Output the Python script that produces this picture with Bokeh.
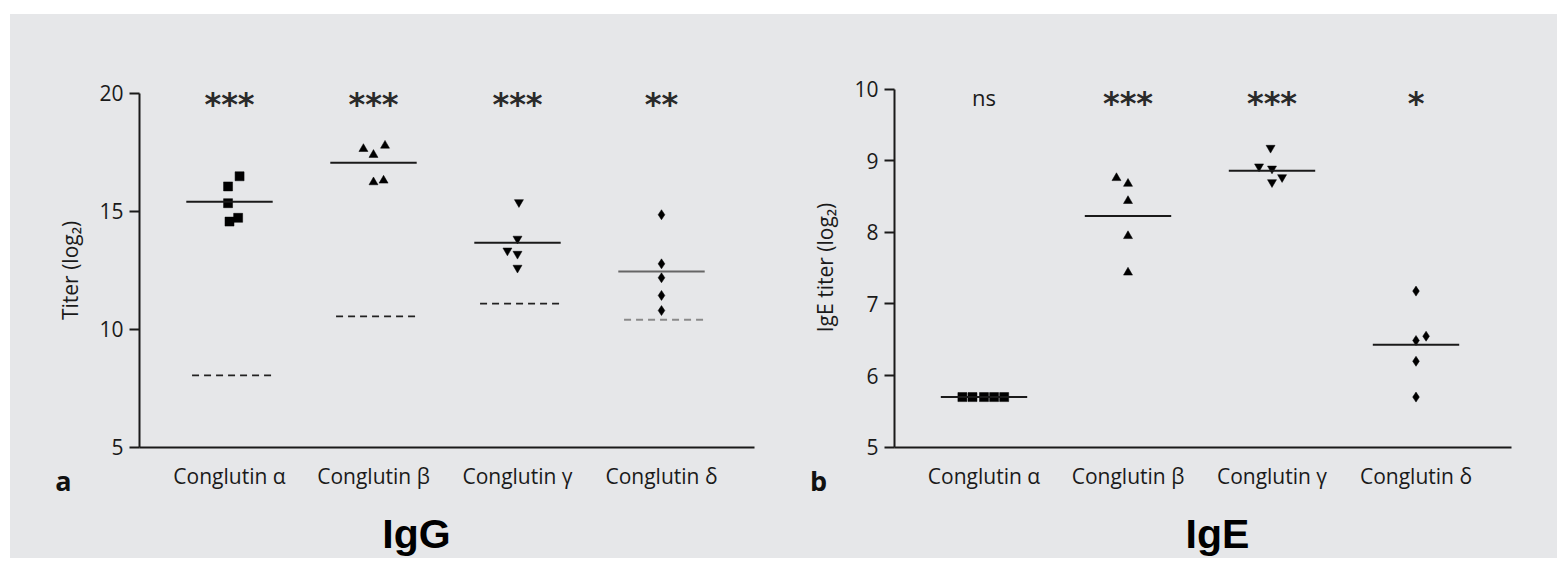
import math
from bokeh.plotting import figure
from bokeh.layouts import row
from bokeh.models import ColumnDataSource, FixedTicker
from bokeh.core.properties import value
from bokeh.embed import file_html
from bokeh.resources import INLINE

# ---------------- data ----------------
categories = ["Conglutin α", "Conglutin β", "Conglutin γ", "Conglutin δ"]
cat_pos = [1, 2, 3, 4]
markers = ["square", "triangle", "inverted_triangle", "diamond"]

# IgG (panel a)
igg_alpha = [16.48, 16.05, 15.34, 14.72, 14.56]
igg_beta = [17.64, 17.39, 17.78, 16.23, 16.30]
igg_gamma = [15.38, 13.83, 13.33, 13.19, 12.60]
igg_delta = [14.85, 12.77, 12.18, 11.43, 10.79]
igg_jitter = [
    [0.07, -0.01, -0.01, 0.06, 0.0],
    [-0.07, 0.0, 0.08, 0.0, 0.07],
    [0.01, 0.0, -0.07, 0.0, 0.0],
    [0.0, 0.0, 0.0, 0.0, 0.0],
]
igg_median = [15.40, 17.05, 13.66, 12.44]
igg_cutoff = [8.04, 10.54, 11.08, 10.40]
igg_sig = ["***", "***", "***", "**"]
igg_ticks = [5, 10, 15, 20]

# IgE (panel b)
ige_alpha = [5.70, 5.70, 5.70, 5.70, 5.70]
ige_beta = [8.76, 8.68, 8.44, 7.95, 7.44]
ige_gamma = [9.18, 8.92, 8.89, 8.77, 8.70]
ige_delta = [7.18, 6.55, 6.49, 6.20, 5.70]
ige_jitter = [
    [-0.15, -0.08, 0.0, 0.07, 0.14],
    [-0.08, 0.0, 0.0, 0.0, 0.0],
    [-0.01, -0.09, 0.0, 0.07, 0.0],
    [0.0, 0.07, 0.0, 0.0, 0.0],
]
ige_median = [5.70, 8.23, 8.86, 6.43]
ige_sig = ["ns", "***", "***", "*"]
ige_ticks = [5, 6, 7, 8, 9, 10]

BG = "#e6e7e9"
FONT = "Open Sans"
INK = "#1a1a1a"


def make_panel(groups, jitter, medians, cutoffs, cutoff_colors, median_colors,
               sig, star_y, ns_y, x_range, y_range, y_axis_x, y_top, ticks,
               ylabel, ylabel_xy, letter, letter_xy, title, title_xy, width):
    p = figure(width=width, height=544, x_range=x_range, y_range=y_range,
               output_backend="svg", toolbar_location=None,
               min_border_left=0, min_border_right=0,
               min_border_top=0, min_border_bottom=0)
    p.title.visible = False
    p.background_fill_color = BG
    p.border_fill_color = BG
    p.outline_line_color = None
    p.grid.visible = False

    # points
    for i, vals in enumerate(groups):
        xs = [cat_pos[i] + j for j in jitter[i]]
        src = ColumnDataSource(dict(x=xs, y=vals))
        sz = 9 if markers[i] != "diamond" else 10
        p.scatter("x", "y", source=src, marker=markers[i], size=sz,
                  fill_color="black", line_color="black", line_width=0.5)

    # medians
    msrc = ColumnDataSource(dict(x0=[c - 0.30 for c in cat_pos],
                                 x1=[c + 0.30 for c in cat_pos],
                                 y=medians, color=median_colors))
    p.segment("x0", "y", "x1", "y", source=msrc, line_color="color", line_width=2)

    # cutoffs
    if cutoffs is not None:
        csrc = ColumnDataSource(dict(x0=[c - 0.26 for c in cat_pos],
                                     x1=[c + 0.30 for c in cat_pos],
                                     y=cutoffs, color=cutoff_colors))
        p.segment("x0", "y", "x1", "y", source=csrc, line_color="color",
                  line_width=1.8, line_dash="7 5")

    # significance marks
    star_idx = [i for i, s in enumerate(sig) if s != "ns"]
    ns_idx = [i for i, s in enumerate(sig) if s == "ns"]
    ssrc = ColumnDataSource(dict(x=[cat_pos[i] for i in star_idx],
                                 y=[star_y] * len(star_idx),
                                 t=[sig[i] for i in star_idx]))
    p.text("x", "y", text="t", source=ssrc, text_align="center",
           text_baseline="alphabetic", text_font=value("DejaVu Sans"),
           text_font_style="bold", text_font_size="32px", text_color="#2a2a2a")
    if ns_idx:
        nsrc = ColumnDataSource(dict(x=[cat_pos[i] for i in ns_idx],
                                     y=[ns_y] * len(ns_idx),
                                     t=[sig[i] for i in ns_idx]))
        p.text("x", "y", text="t", source=nsrc, text_align="center",
               text_baseline="middle", text_font=value(FONT),
               text_font_size="22px", text_color=INK)

    # axes
    ya = p.yaxis[0]
    ya.fixed_location = y_axis_x
    ya.ticker = FixedTicker(ticks=ticks)
    ya.bounds = (5, y_top)
    ya.axis_line_width = 2
    ya.axis_line_color = INK
    ya.major_tick_line_width = 2
    ya.major_tick_line_color = INK
    ya.major_tick_out = 10
    ya.major_tick_in = 0
    ya.minor_tick_line_color = None
    ya.major_label_text_font = FONT
    ya.major_label_text_font_size = "21px"
    ya.major_label_text_color = INK
    ya.major_label_standoff = 6

    xa = p.xaxis[0]
    xa.fixed_location = 5
    xa.ticker = FixedTicker(ticks=cat_pos)
    xa.major_label_overrides = {c: n for c, n in zip(cat_pos, categories)}
    xa.axis_line_width = 2
    xa.axis_line_color = INK
    xa.major_tick_out = 0
    xa.major_tick_in = 0
    xa.minor_tick_line_color = None
    xa.major_label_text_font = FONT
    xa.major_label_text_font_size = "21px"
    xa.major_label_text_color = INK
    xa.major_label_standoff = 15

    # y label, panel letter, panel title
    lsrc = ColumnDataSource(dict(x=[ylabel_xy[0]], y=[ylabel_xy[1]], t=[ylabel]))
    p.text("x", "y", text="t", source=lsrc, angle=math.pi / 2,
           text_align="center", text_baseline="middle", text_font=value(FONT),
           text_font_size="21px", text_color=INK)
    asrc = ColumnDataSource(dict(x=[letter_xy[0]], y=[letter_xy[1]], t=[letter]))
    p.text("x", "y", text="t", source=asrc, text_align="center",
           text_baseline="middle", text_font=value(FONT), text_font_style="bold",
           text_font_size="27px", text_color="#111111")
    tsrc = ColumnDataSource(dict(x=[title_xy[0]], y=[title_xy[1]], t=[title]))
    p.text("x", "y", text="t", source=tsrc, text_align="center",
           text_baseline="alphabetic", text_font=value("Liberation Sans"),
           text_font_style="bold", text_font_size="41px", text_color="#000000")
    return p


p1 = make_panel([igg_alpha, igg_beta, igg_gamma, igg_delta], igg_jitter,
                igg_median, igg_cutoff,
                ["#222222", "#222222", "#222222", "#8a8a8a"],
                [INK, INK, INK, "#666666"],
                igg_sig, 19.54, 19.85,
                (-0.5208, 4.8264), (0.284, 23.335), 0.375, 20, igg_ticks,
                "Titer (log₂)", (-0.111, 12.49), "a", (-0.153, 3.60),
                "IgG", (2.298, 1.322), 770)
p2 = make_panel([ige_alpha, ige_beta, ige_gamma, ige_delta], ige_jitter,
                ige_median, None, None,
                [INK, INK, INK, INK],
                ige_sig, 9.806, 9.89,
                (-0.4132, 4.9826), (3.4455, 11.0433), 0.3785, 10, ige_ticks,
                "IgE titer (log₂)", (-0.1076, 7.51), "b", (-0.1493, 4.54),
                "IgE", (2.6215, 3.787), 777)

p1.xaxis[0].bounds = (0.375, 4.646)
p2.xaxis[0].bounds = (0.3785, 4.66)

layout = row(p1, p2, spacing=0)
layout.margin = (14, 0, 0, 10)
layout.styles = {"background-color": BG}

open("out.html", "w").write(file_html(layout, INLINE))
